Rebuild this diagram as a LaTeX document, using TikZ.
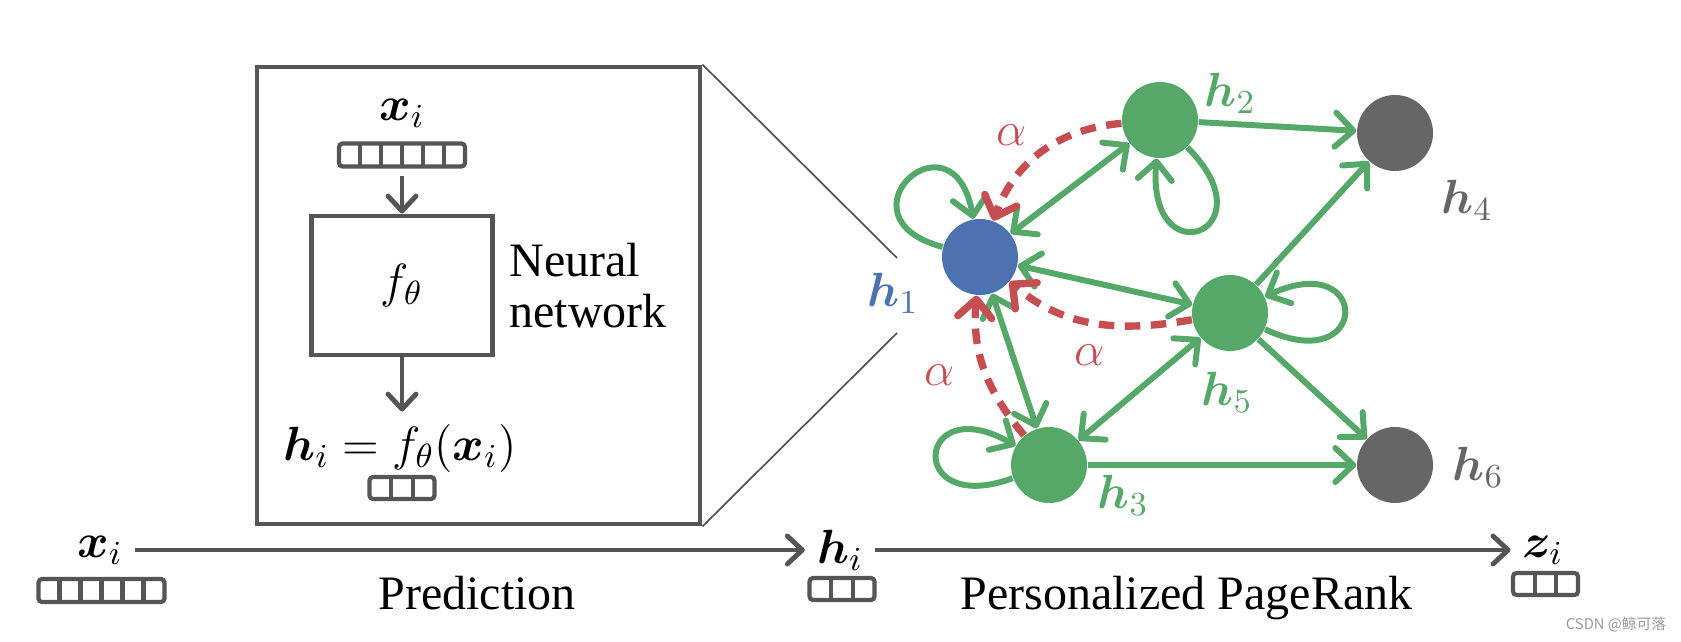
\documentclass[tikz,border=0pt]{standalone}
\usepackage{fix-cm}
\usepackage{amsmath}
\usepackage{bm}
\usepackage{fontspec}
\setmainfont{Liberation Serif}
\newfontfamily\cjk{Noto Sans CJK SC}
\usetikzlibrary{arrows.meta,calc}
\definecolor{PlotBlue}{HTML}{4C72B0}
\definecolor{PlotGreen}{HTML}{55A868}
\definecolor{PlotRed}{HTML}{C44E52}
\definecolor{NodeGray}{HTML}{666666}
\definecolor{LineGray}{HTML}{555555}
\tikzstyle{vertex} = [circle, minimum size=0.76cm, inner sep=0pt]
\tikzstyle{link} = [line width=1.7pt, draw=PlotGreen, -{Straight Barb[length=1.8mm,width=3.4mm,round]}]
\tikzstyle{twoway} = [link, {Straight Barb[length=1.8mm,width=3.4mm,round]}-{Straight Barb[length=1.8mm,width=3.4mm,round]}]
\tikzstyle{restart} = [line width=2.1pt, draw=PlotRed, dash pattern=on 4.4pt off 3pt, -{Straight Barb[length=1.8mm,width=3.4mm,round]}]
\tikzstyle{flow} = [line width=1.4pt, draw=LineGray, -{Straight Barb[length=1.5mm,width=2.8mm,round]}]
\tikzstyle{netbox} = [rectangle, draw=LineGray, line width=1.4pt]
\tikzstyle{vecframe} = [rectangle, draw=LineGray, line width=1.2pt, rounded corners=1pt, inner sep=0pt]
\tikzstyle{vecsix} = [vecframe, minimum width=1.26cm, minimum height=0.23cm,
  path picture={\foreach \k in {1,...,5}
    \draw [LineGray, line width=1.2pt] ($(path picture bounding box.south west)!\k/6!(path picture bounding box.south east)$)
      -- ($(path picture bounding box.north west)!\k/6!(path picture bounding box.north east)$);}]
\tikzstyle{vecthree} = [vecframe, minimum width=0.65cm, minimum height=0.22cm,
  path picture={\foreach \k in {1,2}
    \draw [LineGray, line width=1.2pt] ($(path picture bounding box.south west)!\k/3!(path picture bounding box.south east)$)
      -- ($(path picture bounding box.north west)!\k/3!(path picture bounding box.north east)$);}]
\tikzstyle{zoomline} = [line width=0.5pt, draw=LineGray]
\begin{document}
\begin{tikzpicture}[every node/.style={font=\fontsize{13.66}{14.5}\selectfont}]
\useasboundingbox (0,0) rectangle (16.81,6.41);

% Neural network panel
\node (panel) [netbox, minimum width=4.43cm, minimum height=4.57cm] at (4.785,3.455) {};
\node (xtop) at (4.02,5.28) {$\bm{x}_i$};
\node (vtop) [vecsix] at (4.02,4.86) {};
\node (fnet) [netbox, minimum width=1.81cm, minimum height=1.39cm] at (4.02,3.555) {$f_\theta$};
\node (netlbl) [anchor=west, align=left] at (4.97,3.55) {Neural\\network};
\node (hout) at (4.00,1.93) {$\bm{h}_i = f_\theta(\bm{x}_i)$};
\node (vmid) [vecthree] at (4.02,1.53) {};
\draw [flow, shorten <=2pt] (vtop) -- (fnet);
\draw [flow] (fnet.south) -- (fnet.south |- hout.north);

% Graph
\node (h1) [vertex, fill=PlotBlue] at (9.80,3.84) {};
\node (h2) [vertex, fill=PlotGreen] at (11.60,5.21) {};
\node (h3) [vertex, fill=PlotGreen] at (10.49,1.76) {};
\node (h4) [vertex, fill=NodeGray] at (13.95,5.08) {};
\node (h5) [vertex, fill=PlotGreen] at (12.30,3.28) {};
\node (h6) [vertex, fill=NodeGray] at (13.95,1.76) {};

\node (l1) [PlotBlue] at (8.93,3.48) {$\bm{h}_1$};
\node (l2) [PlotGreen] at (12.30,5.48) {$\bm{h}_2$};
\node (l3) [PlotGreen] at (11.23,1.46) {$\bm{h}_3$};
\node (l4) [NodeGray] at (14.67,4.41) {$\bm{h}_4$};
\node (l5) [PlotGreen] at (12.27,2.49) {$\bm{h}_5$};
\node (l6) [NodeGray] at (14.78,1.74) {$\bm{h}_6$};

\draw [twoway] (h1) -- (h2);
\draw [twoway] (h1) -- (h5);
\draw [twoway] (h1) -- (h3);
\draw [twoway] (h3) -- (h5);
\draw [link] (h2) -- (h4);
\draw [link] (h5) -- (h4);
\draw [link] (h5) -- (h6);
\draw [link] (h3) -- (h6);

% Self loops
\draw [link] (h1) to[out=165,in=100,distance=1.15cm] (h1);
\draw [link] (h2) to[out=-45,in=-95,distance=1.2cm] (h2);
\draw [link] (h5) to[out=-25,in=25,distance=1.17cm] (h5);
\draw [link] (h3) to[out=200,in=150,distance=1.15cm] (h3);

% Teleport back to h1
\draw [restart] (h2) to[out=185,in=70] (h1);
\draw [restart] (h5) to[out=190,in=-40] (h1);
\draw [restart] (h3) to[out=130,in=-95] (h1);
\node (a1) [PlotRed] at (10.12,5.06) {$\alpha$};
\node (a2) [PlotRed] at (10.90,2.86) {$\alpha$};
\node (a3) [PlotRed] at (9.40,2.66) {$\alpha$};

% Zoom lines
\coordinate (ztop) at (8.97,3.83);
\coordinate (zbot) at (8.97,3.08);
\draw [zoomline] (panel.north east) -- (ztop);
\draw [zoomline] (panel.south east) -- (zbot);

% Bottom row
\node (xlbl) at (1.00,0.91) {$\bm{x}_i$};
\node (vx) [vecsix] at (1.015,0.505) {};
\node (hlbl) at (8.40,0.91) {$\bm{h}_i$};
\node (vh) [vecthree] at (8.42,0.52) {};
\node (zlbl) at (15.43,0.91) {$\bm{z}_i$};
\node (vz) [vecthree] at (15.455,0.57) {};
\draw [flow] (xlbl) -- (hlbl);
\draw [flow] (hlbl) -- (zlbl);
\node (pred) [anchor=base] at (4.77,0.32) {Prediction};
\node (ppr) [anchor=base] at (11.865,0.32) {Personalized PageRank};

\node (wm) [font=\cjk\fontsize{4.2}{5}\selectfont, text=black!40] at (16.16,0.16) {CSDN @鲸可落};

\end{tikzpicture}
\end{document}
